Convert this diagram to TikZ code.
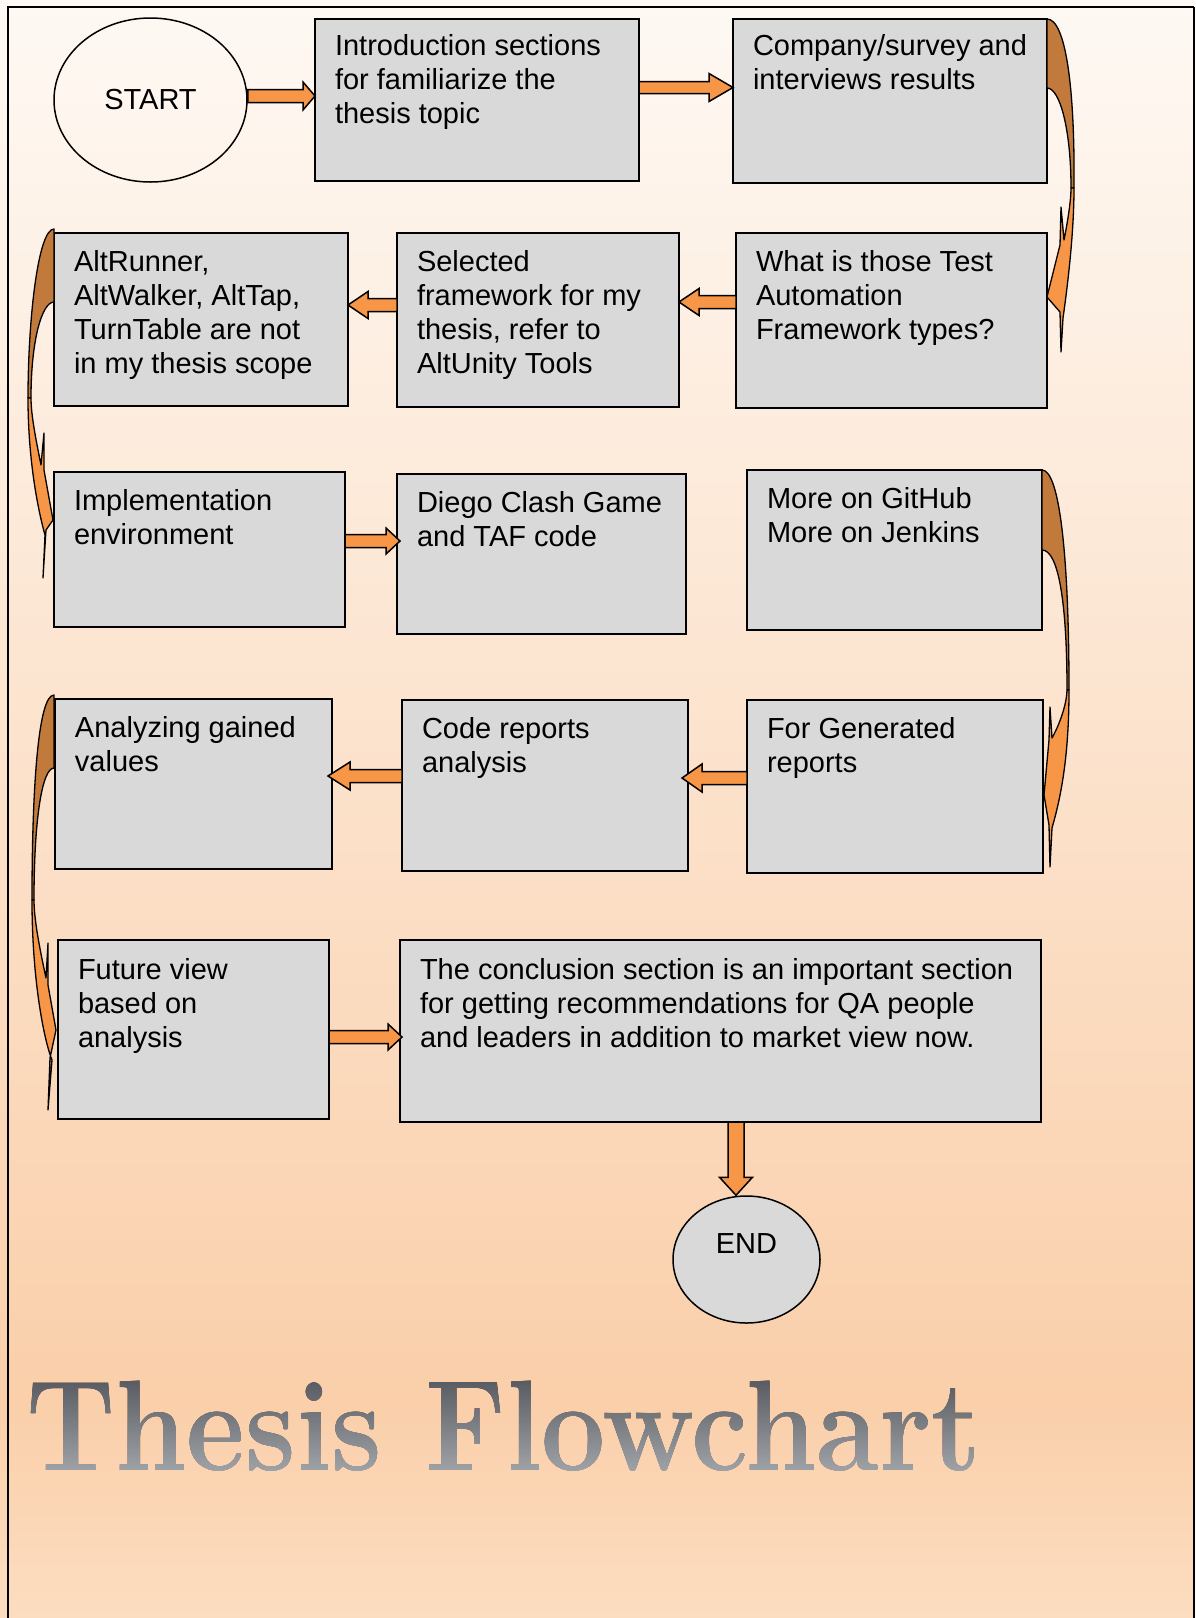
\documentclass[tikz,border=0pt]{standalone}
\usepackage{fontspec}
\newfontfamily\arialf{Liberation Sans}
\usetikzlibrary{calc,shapes.geometric}
\definecolor{arrorange}{HTML}{F79646}
\definecolor{arrbrown}{HTML}{C27A3C}
\definecolor{boxgray}{HTML}{D9D9D9}
\definecolor{bgtop}{RGB}{254,249,244}
\definecolor{bgdeep}{RGB}{250,207,170}
\definecolor{bgbot}{RGB}{252,221,192}
\definecolor{titletop}{RGB}{85,88,94}
\definecolor{titlebot}{RGB}{168,171,174}
\newcommand\boxtext[4]{\parbox[t][#2pt][t]{#1pt}{\raggedright\leftskip=20pt\arialf\fontsize{29}{34}\selectfont\rule{0pt}{#3pt}#4}}
\newcommand\blockarrow[5]{%
  \coordinate (#1hb) at ($(#2)!#3pt!(#1)$);
  \draw[blockarr] ($(#1)!#4pt!90:(#2)$) -- ($(#1hb)!#4pt!90:(#2)$) -- ($(#1hb)!#5pt!90:(#2)$) -- (#2)
     -- ($(#1hb)!#5pt!-90:(#2)$) -- ($(#1hb)!#4pt!-90:(#2)$) -- ($(#1)!#4pt!-90:(#2)$) -- cycle;}
\tikzset{
  flowbox/.style={draw=black, line width=1.5pt, fill=boxgray, rectangle, inner sep=0pt, outer sep=0pt, anchor=north west},
  blockarr/.style={draw=black, fill=arrorange, line width=1.5pt, line join=miter},
  backband/.style={draw=black, fill=arrbrown, line width=1.3pt, line join=round},
  frontband/.style={draw=black, fill=arrorange, line width=1.3pt, line join=round},
  oval/.style={ellipse, draw=black, line width=1.5pt, inner sep=0pt, font=\arialf\fontsize{29}{34}\selectfont}
}
\begin{document}
\begin{tikzpicture}[x=1pt,y=-1pt]
\useasboundingbox (0,0) rectangle (1195,1618);
% background
\shade[top color=bgtop, bottom color=bgdeep] (0,0) rectangle (1195,1401);
\shade[top color=bgdeep, bottom color=bgbot] (0,1400) rectangle (1195,1618);
\draw[line width=1.5pt] (8,1618) -- (8,7) -- (1194,7);
\draw[line width=2pt] (1194,7) -- (1194,1618);

% nodes
\node[oval, minimum width=193pt, minimum height=164pt] (start) at (150.5,100) {START};
\node[flowbox] (box1) at (315,19) {\boxtext{324}{162}{36.5}{Introduction sections\\for familiarize the\\thesis topic}};
\node[flowbox] (box2) at (733,19) {\boxtext{314}{164}{36.5}{Company/survey and\\interviews results}};
\node[flowbox] (alt) at (54,233) {\boxtext{294}{173}{38}{AltRunner,\\AltWalker, AltTap,\\TurnTable are not\\in my thesis scope}};
\node[flowbox] (sel) at (397,233) {\boxtext{282}{174}{38}{Selected\\framework for my\\thesis, refer to\\AltUnity Tools}};
\node[flowbox] (what) at (736,233) {\boxtext{311}{175}{38}{What is those Test\\Automation\\Framework types?}};
\node[flowbox] (impl) at (54,472) {\boxtext{291}{155}{38.5}{Implementation\\environment}};
\node[flowbox] (diego) at (397,474) {\boxtext{289}{160}{38.5}{Diego Clash Game\\and TAF code}};
\node[flowbox] (more) at (747,470) {\boxtext{295}{160}{38.5}{More on GitHub\\More on Jenkins}};
\node[flowbox] (anal) at (55,699) {\boxtext{277}{170}{38.5}{Analyzing gained\\values}};
\node[flowbox] (code) at (402,700) {\boxtext{286}{171}{38.5}{Code reports\\analysis}};
\node[flowbox] (forg) at (747,700) {\boxtext{296}{173}{38.5}{For Generated\\reports}};
\node[flowbox] (fut) at (58,940) {\boxtext{271}{179}{39}{Future view\\based on\\analysis}};
\node[flowbox] (conc) at (400,940) {\boxtext{641}{182}{39}{The conclusion section is an important section\\for getting recommendations for QA people\\and leaders in addition to market view now.}};
\node[oval, fill=boxgray, minimum width=147pt, minimum height=127pt, text depth=32pt] (endn) at (746.5,1259.5) {END};

% curved arrows
\begin{scope}[shift={(box2.north east)}]
  \draw[backband] (0,0) .. controls (19,0) and (28,71) .. (27,169) -- (24,169) .. controls (24,111) and (13,69) .. (0,69) -- cycle;
  \draw[frontband] (27,169) .. controls (27,216) and (20,271) .. (16,299) -- (14,333) -- (13,293) -- (0,278) -- (13,226) -- (14,188) -- (17,221) .. controls (21,201) and (24,181) .. (24,169) -- cycle;
\end{scope}
\begin{scope}[shift={(alt.north west)}]
  \draw[backband] (0,-4) .. controls (-16,-4) and (-26,87) .. (-26,165) -- (-23,165) .. controls (-23,107) and (-12,69) .. (0,69) -- cycle;
  \draw[frontband] (-26,165) .. controls (-26,227) and (-16,277) .. (-9,302) -- (-11,345) -- (-8,297) -- (-1,287) -- (-10,237) -- (-10,200) -- (-13,232) .. controls (-18,207) and (-23,182) .. (-23,165) -- cycle;
\end{scope}
\begin{scope}[shift={(more.north east)}]
  \draw[backband] (0,0) .. controls (18,0) and (27,90) .. (27,220) -- (25,220) .. controls (25,130) and (16,80) .. (0,80) -- cycle;
  \draw[frontband] (27,220) .. controls (27,290) and (18,330) .. (10,358) -- (8,397) -- (7,355) -- (2,325) -- (7,270) -- (8,237) -- (10,268) .. controls (20,250) and (25,230) .. (25,220) -- cycle;
\end{scope}
\begin{scope}[shift={(anal.north west)}]
  \draw[backband] (-1,-4) .. controls (-17,-4) and (-23,91) .. (-23,201) -- (-21,201) .. controls (-21,121) and (-13,69) .. (-1,69) -- cycle;
  \draw[frontband] (-23,201) .. controls (-23,281) and (-11,341) .. (-3,361) -- (-7,411) -- (-5,359) -- (1,331) -- (-7,286) -- (-7,244) -- (-9,279) .. controls (-15,251) and (-21,221) .. (-21,201) -- cycle;
\end{scope}

% straight block arrows
\coordinate (a1s) at ([yshift=4pt]start.east);
\coordinate (a1e) at (box1.west |- a1s);
\blockarrow{a1s}{a1e}{12}{6.5}{14}
\coordinate (a2s) at ([yshift=12.5pt]box1.east);
\coordinate (a2e) at (box2.west |- a2s);
\blockarrow{a2s}{a2e}{24}{6}{14}
\coordinate (a3s) at ([yshift=18.5pt]what.west);
\coordinate (a3e) at (sel.east |- a3s);
\blockarrow{a3s}{a3e}{20}{6.5}{13.5}
\coordinate (a4s) at ([yshift=15pt]sel.west);
\coordinate (a4e) at (alt.east |- a4s);
\blockarrow{a4s}{a4e}{20}{6.5}{13.5}
\coordinate (a5s) at ([yshift=8.5pt]impl.east);
\coordinate (a5e) at ($(diego.west |- a5s)+(3,0)$);
\blockarrow{a5s}{a5e}{14}{6.5}{13}
\coordinate (a6s) at ([yshift=8.5pt]forg.west);
\coordinate (a6e) at ($(code.east |- a6s)+(-6,0)$);
\blockarrow{a6s}{a6e}{20}{6.5}{14}
\coordinate (a7s) at ([yshift=9.5pt]code.west);
\coordinate (a7e) at ($(anal.east |- a7s)+(-4,0)$);
\blockarrow{a7s}{a7e}{22}{6.5}{14}
\coordinate (a8s) at ([yshift=-7.5pt]fut.east);
\coordinate (a8e) at ($(conc.west |- a8s)+(2,0)$);
\blockarrow{a8s}{a8e}{14}{6.5}{13}
\coordinate (a9s) at ([xshift=15.5pt]conc.south);
\coordinate (a9e) at (a9s |- endn.north);
\blockarrow{a9s}{a9e}{18}{8}{16.5}

% title
\node[anchor=base west, inner sep=0pt, text=black] (title) at (26,1470) {\scalebox{0.885}[1]{\fontsize{129}{129}\selectfont\bfseries Thesis Flowchart}};
\begin{scope}[blend mode=lighten]
  \shade[top color=titletop, bottom color=titlebot] (20,1376) rectangle (1010,1482);
\end{scope}
\end{tikzpicture}
\end{document}
